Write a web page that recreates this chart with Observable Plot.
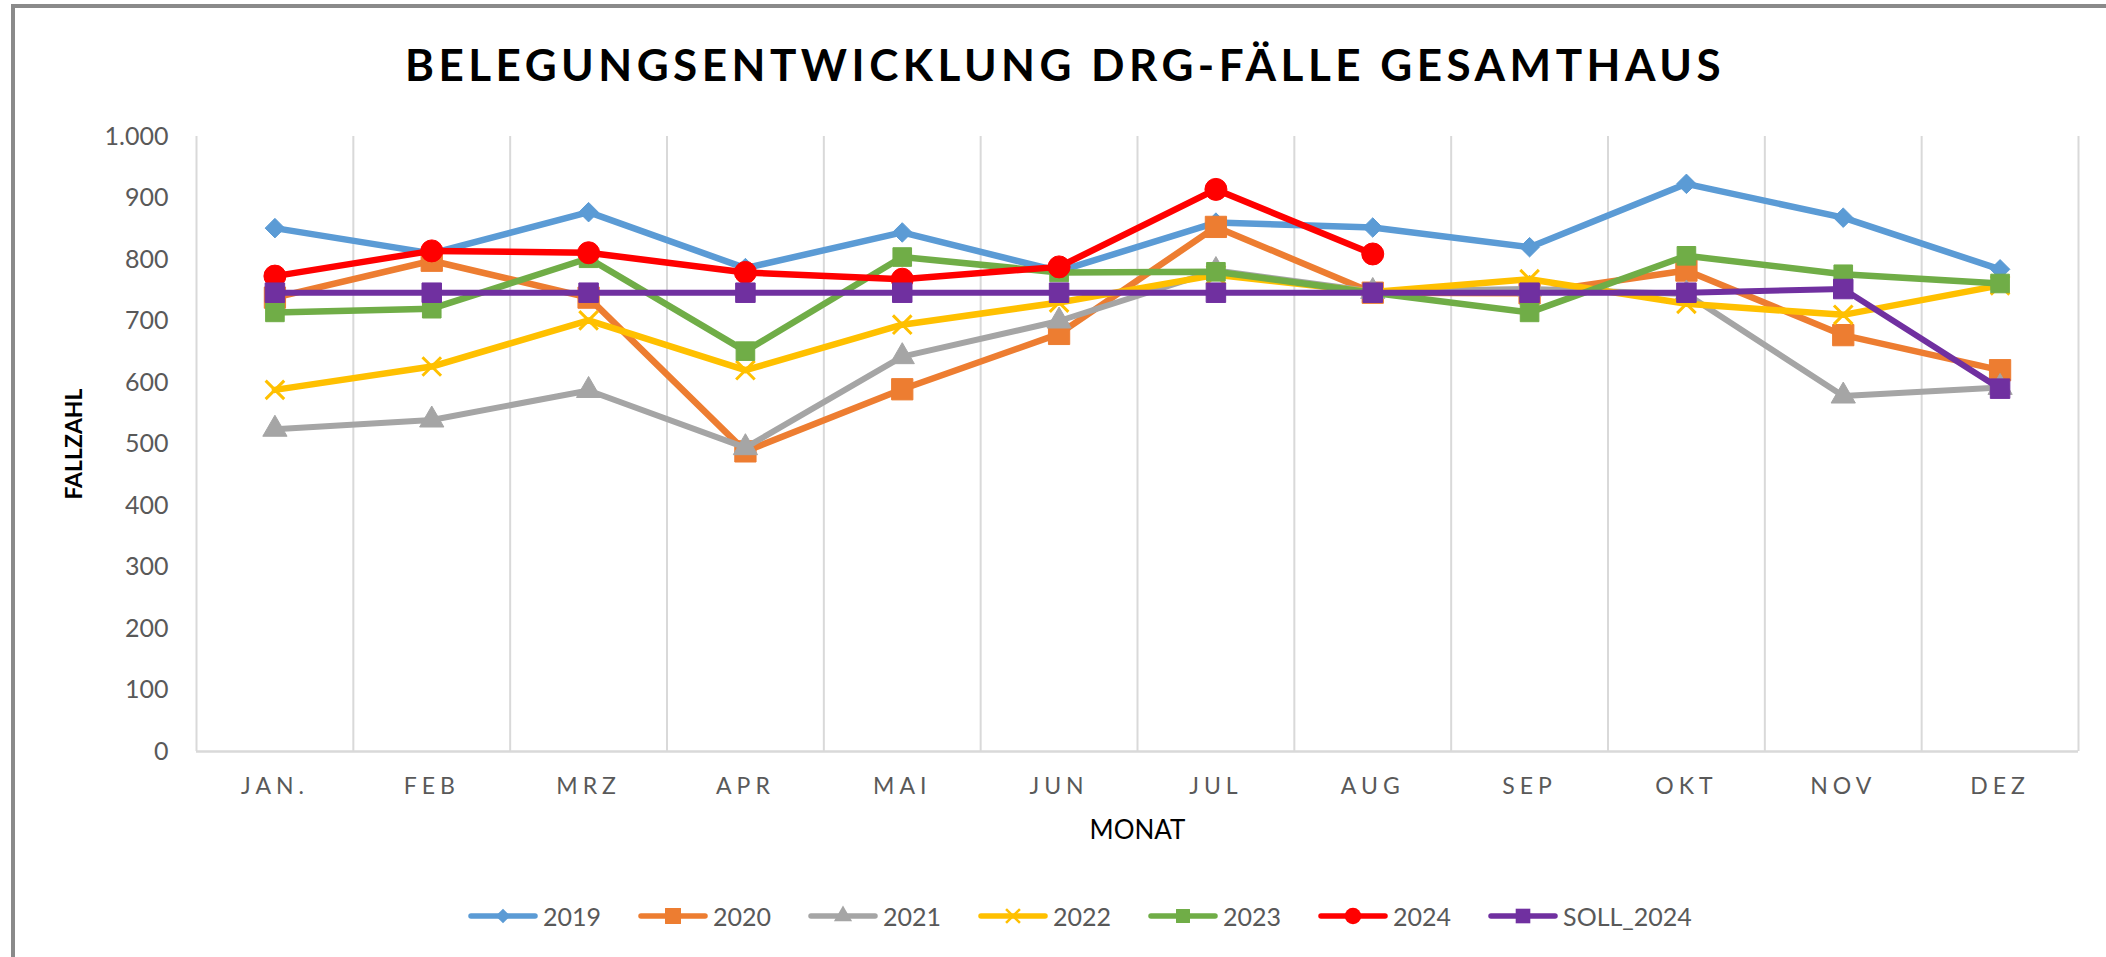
<!DOCTYPE html>
<html>
<head>
<meta charset="utf-8">
<script src="https://cdn.jsdelivr.net/npm/d3@7"></script>
<script src="https://cdn.jsdelivr.net/npm/@observablehq/plot@0.6"></script>
<style>
  html, body { margin: 0; padding: 0; background: #fff; overflow: hidden; }
  #wrap { position: relative; width: 2106px; height: 957px; overflow: hidden; background: #fff; font-family: Lato, "Open Sans", sans-serif; }
  #frame { position: absolute; left: 11px; top: 4px; width: 2400px; height: 1100px; border-left: 4px solid #8a8a8a; border-top: 4px solid #8a8a8a; box-sizing: border-box; }
  #title { position: absolute; left: 0; width: 2130px; top: 35px; text-align: center; font: bold 44px Lato, sans-serif; letter-spacing: 4.5px; color: #000; line-height: 58px; }
  #chart { position: absolute; left: 0; top: 100px; }
  #chart g[aria-label="x-axis tick label"] text { letter-spacing: 5px; }
  #legend { position: absolute; left: 469px; top: 898px; height: 36px; display: flex; align-items: center; font: 25px Lato, sans-serif; color: #595959; }
  .item { display: flex; align-items: center; margin-right: 38px; }
  .item svg { margin-right: 6px; overflow: visible; }
</style>
</head>
<body>
<div id="wrap">
  <div id="frame"></div>
  <div id="title">BELEGUNGSENTWICKLUNG DRG-FÄLLE GESAMTHAUS</div>
  <div id="chart"></div>
  <div id="legend"></div>
</div>
<script>
// ---- data ----
const months = ["JAN.", "FEB", "MRZ", "APR", "MAI", "JUN", "JUL", "AUG", "SEP", "OKT", "NOV", "DEZ"];
const seriesNames = ["2019", "2020", "2021", "2022", "2023", "2024", "SOLL_2024"];
const v2019 = [851, 810, 877, 786, 844, 781, 860, 852, 820, 923, 868, 784];
const v2020 = [738, 798, 738, 488, 589, 679, 853, 746, 745, 782, 677, 620];
const v2021 = [524, 539, 587, 494, 642, 700, 782, 748, 752, 744, 578, 592];
const v2022 = [588, 626, 701, 620, 694, 730, 775, 747, 768, 728, 710, 758];
const v2023 = [714, 720, 802, 651, 804, 779, 780, 746, 714, 806, 776, 761];
const v2024 = [773, 814, 811, 779, 768, 788, 914, 809];
const vSoll = [746, 746, 746, 746, 746, 746, 746, 746, 746, 746, 752, 590];
const yTicks = [0, 100, 200, 300, 400, 500, 600, 700, 800, 900, 1000];

const colors = ["#5B9BD5", "#ED7D31", "#A5A5A5", "#FFC000", "#70AD47", "#FF0000", "#7030A0"];
const symbols = ["diamond2", "square", "triangle", "times", "square", "circle", "square"];
const radii = [8.8, 12, 9, 8.5, 10.5, 11, 11];
const widths = [6.5, 6.5, 6, 6.5, 6.5, 6.5, 6];
const values = [v2019, v2020, v2021, v2022, v2023, v2024, vSoll];

const rows = values.map((vals, s) => vals.map((v, i) => ({series: seriesNames[s], m: i, v})));

const de = d3.formatLocale({decimal: ",", thousands: ".", grouping: [3], currency: ["", " €"]});
const fmt = de.format(",d");

const marks = [
  Plot.ruleX(d3.range(months.length + 1), {x: d => d - 0.5, stroke: "#d9d9d9", strokeWidth: 2}),
  Plot.ruleY([0], {stroke: "#d9d9d9", strokeWidth: 2.5}),
  Plot.axisY({ticks: yTicks, tickSize: 0, tickPadding: 28, tickFormat: fmt, fontSize: 25, label: null}),
  Plot.axisX({ticks: d3.range(months.length), tickSize: 0, tickPadding: 26, tickFormat: i => months[i], fontSize: 23, label: null}),
  Plot.text(["MONAT"], {frameAnchor: "bottom", dy: 87, fontSize: 26, fill: "#000", fontFamily: "Lato"}),
  Plot.text(["FALLZAHL"], {frameAnchor: "left", textAnchor: "middle", dx: -122, rotate: -90, fontSize: 23, fill: "#000", fontFamily: "Lato", fontWeight: "bold"})
];
rows.forEach((data, s) => {
  marks.push(Plot.line(data, {x: "m", y: "v", stroke: colors[s], strokeWidth: widths[s], strokeLinejoin: "round", strokeLinecap: "round"}));
  if (symbols[s] === "times") {
    marks.push(Plot.dot(data, {x: "m", y: "v", symbol: "times", r: radii[s], stroke: colors[s], strokeWidth: 3}));
  } else {
    marks.push(Plot.dot(data, {x: "m", y: "v", symbol: symbols[s], r: radii[s], fill: colors[s], stroke: colors[s], strokeWidth: 1}));
  }
});

const chart = Plot.plot({
  width: 2106,
  height: 760,
  marginLeft: 196,
  marginRight: 28,
  marginTop: 36,
  marginBottom: 109,
  style: {fontFamily: "Lato, sans-serif", color: "#595959", background: "transparent", overflow: "visible"},
  x: {type: "linear", domain: [-0.5, months.length - 0.5], axis: null},
  y: {domain: [0, 1000], axis: null},
  marks
});
document.getElementById("chart").appendChild(chart);

// ---- legend ----
const legend = d3.select("#legend");
const symMap = {diamond2: d3.symbolDiamond2, square: d3.symbolSquare, triangle: d3.symbolTriangle, times: d3.symbolTimes, circle: d3.symbolCircle};
seriesNames.forEach((name, s) => {
  const item = legend.append("div").attr("class", "item");
  const svg = item.append("svg").attr("width", 68).attr("height", 24);
  svg.append("line").attr("x1", 2).attr("x2", 66).attr("y1", 12).attr("y2", 12)
    .attr("stroke", colors[s]).attr("stroke-width", 5.5).attr("stroke-linecap", "round");
  const rr = radii[s] * 0.75;
  const path = d3.symbol(symMap[symbols[s]], rr * rr * Math.PI)();
  const p = svg.append("path").attr("d", path).attr("transform", "translate(34,12)");
  if (symbols[s] === "times") p.attr("fill", "none").attr("stroke", colors[s]).attr("stroke-width", 2.5);
  else p.attr("fill", colors[s]);
  item.append("span").text(name);
});
</script>
</body>
</html>
